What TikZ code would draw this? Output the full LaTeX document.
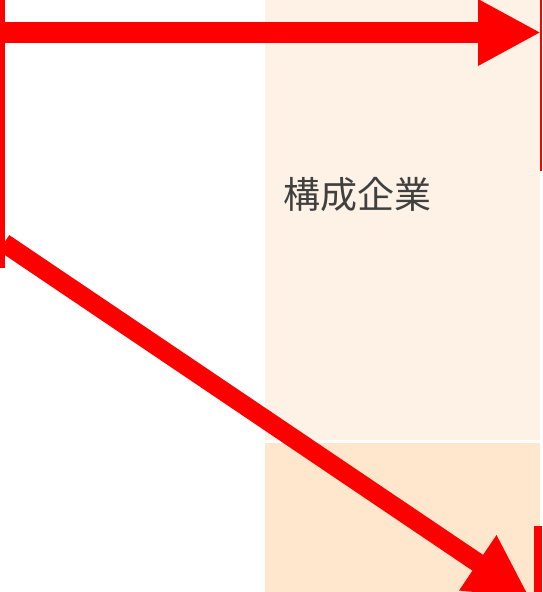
\documentclass[tikz,border=0pt]{standalone}
\usepackage{fontspec}
\newfontfamily\cjk{Noto Sans CJK JP}
\usetikzlibrary{arrows.meta}
\definecolor{peachA}{HTML}{FEF2E6}
\definecolor{peachB}{HTML}{FEE7CD}
\definecolor{txt}{HTML}{404040}
\tikzset{
  redline/.style={draw=red, line cap=butt},
  bigarrow/.style={draw=red, line width=21pt, -{Triangle[length=63pt,width=62pt]}},
  diagarrow/.style={draw=red, line width=19pt, -{Triangle[length=63pt,width=62pt]}},
}
\begin{document}
\begin{tikzpicture}[x=1pt,y=-1pt]
\useasboundingbox (0,0) rectangle (542,592);
\fill[peachA] (265,0) rectangle (540,440);
\fill[peachB] (265,443) rectangle (540,592);
\node[font=\cjk\fontsize{37}{42}\selectfont, text=txt] (lbl) at (357,195) {構成企業};
% vertical lines
\coordinate (lvt) at (2.5,0);
\coordinate (lvb) at (2.5,268);
\draw[redline, line width=5pt] (lvt) -- (lvb);
\coordinate (rvt) at (541,0);
\coordinate (rvb) at (541,171);
\draw[redline, line width=2pt] (rvt) -- (rvb);
\coordinate (bvt) at (538,526);
\coordinate (bvb) at (538,592);
\draw[redline, line width=8pt] (bvt) -- (bvb);
% arrows
\coordinate (hs) at (0,32.5);
\coordinate (he) at (541,32.5);
\draw[bigarrow] (hs) -- (he);
\coordinate (ds) at (4,243);
\coordinate (de) at (530,598);
\draw[diagarrow] (ds) -- (de);
\end{tikzpicture}
\end{document}
